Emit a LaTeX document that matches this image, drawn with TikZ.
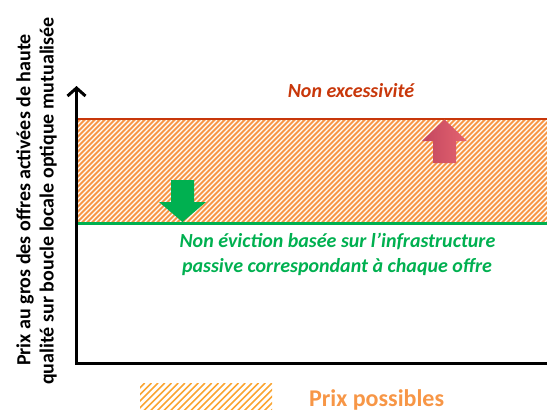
\documentclass[tikz,border=0pt]{standalone}
\usepackage{fontspec}
\setmainfont{Carlito}
\usetikzlibrary{arrows.meta}
\definecolor{hatchor}{RGB}{247,150,70}
\definecolor{legor}{RGB}{250,165,50}
\definecolor{txtor}{RGB}{247,150,70}
\definecolor{redline}{RGB}{200,55,10}
\definecolor{grn}{RGB}{0,176,80}
\definecolor{pinkL}{RGB}{195,70,95}
\definecolor{pinkR}{RGB}{228,100,112}
\tikzset{
  axis/.style={line width=3pt, line cap=rect},
  lbl/.style={font=\fontsize{20}{24}\selectfont\bfseries\itshape, align=center, inner sep=0pt},
  ylbl/.style={font=\fontsize{20}{24}\selectfont\bfseries, rotate=90, inner sep=0pt, anchor=base},
}
\begin{document}
\begin{tikzpicture}[x=1pt,y=-1pt]
\useasboundingbox (0,0) rectangle (547,410);
% hatched band
\begin{scope}
\clip (78,120.5) rectangle (547,222);
\fill[hatchor] (78,120) rectangle (547,222);
\foreach \i in {-110,-105,...,550} \draw[white, line width=1.1pt] (\i,222) -- ++(102,-102);
\end{scope}
% limits
\coordinate (rl) at (76,119); \coordinate (rr) at (547,119);
\coordinate (gl) at (76,223.5); \coordinate (gr) at (547,223.5);
\draw[redline, line width=2.6pt] (rl) -- (rr);
\draw[grn, line width=3pt] (gl) -- (gr);
% axes
\coordinate (o) at (76.5,363.5);
\coordinate (ytop) at (76.5,86);
\coordinate (xend) at (547,363.5);
\draw[axis] (xend) -- (o);
\draw[line width=3pt, -{Straight Barb[length=8pt,width=18pt,line width=3pt]}] (o) -- (ytop);
% arrows
\fill[grn] (171,180) -- (194,180) -- (194,202) -- (206,202) -- (182.5,222) -- (159,202) -- (171,202) -- cycle;
\shade[left color=pinkL, right color=pinkR] (433,163) -- (456,163) -- (456,141) -- (467,141) -- (444.5,119.5) -- (422,141) -- (433,141) -- cycle;
% texts
\node[lbl, text=redline, anchor=base] (nonexc) at (351,97) {Non excessivité};
\node[lbl, text=grn, anchor=base] (noneev) at (337.5,247) {Non éviction basée sur l’infrastructure};
\node[lbl, text=grn, anchor=base] (noneev2) at (337,272) {passive correspondant à chaque offre};
\node[ylbl] (ylab1) at (30.5,200) {Prix au gros des offres activées de haute};
\node[ylbl] (ylab2) at (53.5,201) {qualité sur boucle locale optique mutualisée};
% legend
\begin{scope}
\clip (140,383) rectangle (272,411);
\foreach \i in {110,116.7,...,280} \draw[legor, line width=1.6pt] (\i,411) -- ++(28,-28);
\end{scope}
\node[font=\fontsize{24}{24}\selectfont\bfseries, text=txtor, anchor=base west, inner sep=0pt] (leg) at (309,406) {Prix possibles};
\end{tikzpicture}
\end{document}
